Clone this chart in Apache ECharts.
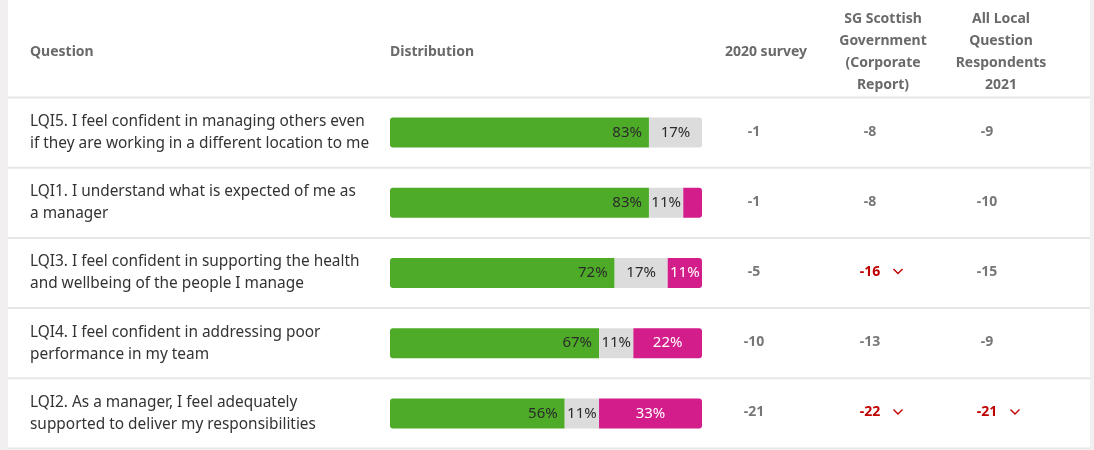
<!DOCTYPE html>
<html>
<head>
<meta charset="utf-8">
<script src="https://cdn.jsdelivr.net/npm/echarts@6/dist/echarts.min.js"></script>
<style>
  html, body { margin: 0; padding: 0; background: #ffffff; }
  #chart { width: 1094px; height: 450px; }
</style>
</head>
<body>
<div id="chart"></div>
<script>
// Question wording (line breaks as shown in the table)
const questions = [
  'LQI5. I feel confident in managing others even\nif they are working in a different location to me',
  'LQI1. I understand what is expected of me as\na manager',
  'LQI3. I feel confident in supporting the health\nand wellbeing of the people I manage',
  'LQI4. I feel confident in addressing poor\nperformance in my team',
  'LQI2. As a manager, I feel adequately\nsupported to deliver my responsibilities'
];
const codes = ['LQI5', 'LQI1', 'LQI3', 'LQI4', 'LQI2'];

// Response distribution (%)
const favourable   = [83, 83, 72, 67, 56];
const neutral      = [17, 11, 17, 11, 11];
const unfavourable = [0, 6, 11, 22, 33];

// Comparisons (percentage-point difference)
const vs2020  = [-1, -1, -5, -10, -21];
const vsSG    = [-8, -8, -16, -13, -22];
const vsLocal = [-9, -10, -15, -9, -21];
const sigSG    = [false, false, true, false, true];
const sigLocal = [false, false, false, false, true];

// Column headings
const headQuestion = 'Question';
const headDistribution = 'Distribution';
const headComparisons = [
  '2020 survey',
  'SG Scottish\nGovernment\n(Corporate\nReport)',
  'All Local\nQuestion\nRespondents\n2021'
];

const FONT = '"Noto Sans", "Open Sans", sans-serif';
const GREEN = '#4dab28';
const GREY = '#dcdcdc';
const PINK = '#d21d8b';
const RED = '#c00000';

const chart = echarts.init(document.getElementById('chart'), null, { renderer: 'canvas' });

const segs = [favourable, neutral, unfavourable];
// round the outer ends of each stacked bar
function radiusFor(seg, i) {
  let first = -1, last = -1;
  segs.forEach((s, k) => { if (s[i] > 0) { if (first < 0) first = k; last = k; } });
  const r = 3;
  return [seg === first ? r : 0, seg === last ? r : 0, seg === last ? r : 0, seg === first ? r : 0];
}
function segData(seg) {
  return segs[seg].map((v, i) => ({ value: v, itemStyle: { borderRadius: radiusFor(seg, i) } }));
}

const labelBase = { show: true, fontFamily: FONT, fontSize: 15, formatter: p => (p.value > 0 ? p.value + '%' : '') };

chart.setOption({
  animation: false,
  grid: { left: 390, right: 392, top: 97.5, height: 351 },
  xAxis: { type: 'value', min: 0, max: 100, show: false },
  yAxis: { type: 'category', data: codes, inverse: true, show: false },
  series: [
    {
      name: 'Favourable', type: 'bar', stack: 'dist', barWidth: 30,
      itemStyle: { color: GREEN },
      label: Object.assign({}, labelBase, { position: 'insideRight', distance: 7, color: '#2b2b2b' }),
      data: segData(0)
    },
    {
      name: 'Neutral', type: 'bar', stack: 'dist', barWidth: 30,
      itemStyle: { color: GREY },
      label: Object.assign({}, labelBase, { position: 'inside', color: '#2b2b2b' }),
      data: segData(1)
    },
    {
      name: 'Unfavourable', type: 'bar', stack: 'dist', barWidth: 30,
      itemStyle: { color: PINK },
      label: Object.assign({}, labelBase, {
        position: 'inside', color: '#ffffff',
        formatter: p => (p.value >= 10 ? p.value + '%' : '')
      }),
      data: segData(2)
    }
  ]
});

// Table furniture: headings, separators, question text and comparison columns
const rowY = codes.map((c, i) => chart.convertToPixel({ yAxisIndex: 0 }, i));
const band = rowY.length > 1 ? rowY[1] - rowY[0] : 70;
const els = [];

// side margins
els.push({ type: 'rect', shape: { x: 0, y: 0, width: 8, height: 450 }, style: { fill: '#f1efef' }, silent: true });
els.push({ type: 'rect', shape: { x: 1090, y: 0, width: 4, height: 450 }, style: { fill: '#f1efef' }, silent: true });

// separators
const bounds = [rowY[0] - band / 2].concat(rowY.map(y => y + band / 2));
bounds.forEach(y => {
  els.push({ type: 'line', shape: { x1: 8, y1: y, x2: 1090, y2: y }, style: { stroke: '#e6e6e6', lineWidth: 2 }, silent: true });
});

const headStyle = { font: 'bold 14px ' + FONT, fill: '#6a6a6a', textVerticalAlign: 'middle', lineHeight: 22 };
els.push({ type: 'text', style: Object.assign({ text: headQuestion, x: 30, y: 52, textAlign: 'left' }, headStyle) });
els.push({ type: 'text', style: Object.assign({ text: headDistribution, x: 390, y: 52, textAlign: 'left' }, headStyle) });
const headX = [766, 883, 1001];
headComparisons.forEach((t, k) => {
  els.push({ type: 'text', style: Object.assign({ text: t, x: headX[k], y: 52, textAlign: 'center' }, headStyle) });
});

// questions
questions.forEach((q, i) => {
  els.push({
    type: 'text',
    style: { text: q, x: 30, y: rowY[i], font: '15.4px ' + FONT, fill: '#333333', textAlign: 'left', textVerticalAlign: 'middle', lineHeight: 22 }
  });
});

// comparison columns
const valX = [754, 870, 987];
const cols = [[vs2020, null], [vsSG, sigSG], [vsLocal, sigLocal]];
cols.forEach(([vals, sig], k) => {
  vals.forEach((v, i) => {
    const hot = sig && sig[i];
    const y = rowY[i] - 1;
    els.push({
      type: 'text',
      style: { text: String(v), x: valX[k], y: y, font: 'bold 14px ' + FONT, fill: hot ? RED : '#777777', textAlign: 'center', textVerticalAlign: 'middle' }
    });
    if (hot) {
      const cx = valX[k] + 28;
      els.push({
        type: 'polyline',
        shape: { points: [[cx - 4.5, y - 3], [cx, y + 1.5], [cx + 4.5, y - 3]] },
        style: { stroke: RED, lineWidth: 1.4, fill: null },
        silent: true
      });
    }
  });
});

chart.setOption({ graphic: { elements: els } });
</script>
</body>
</html>
